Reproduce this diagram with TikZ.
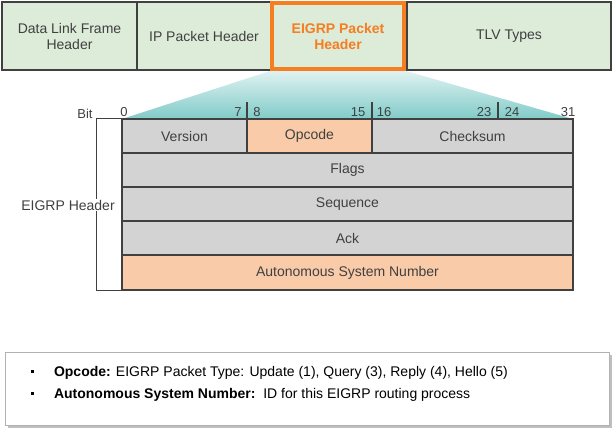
\documentclass[tikz,border=0pt]{standalone}
\usepackage{fontspec}
\setmainfont{Liberation Sans}
\definecolor{framegreen}{HTML}{DDEBD9}
\definecolor{fieldgray}{HTML}{D4D3D3}
\definecolor{fieldpeach}{HTML}{F9CBA8}
\definecolor{hiorange}{HTML}{F47E20}
\definecolor{fanteal}{HTML}{80CBC8}
\definecolor{textgray}{HTML}{404040}
\tikzset{
  hdr/.style={draw=textgray, line width=1.5pt, fill=framegreen, text=textgray, align=center, font=\fontsize{14}{16}\selectfont},
  fld/.style={draw=textgray, line width=1.2pt, fill=fieldgray, text=textgray, font=\fontsize{14}{16}\selectfont},
  bitlbl/.style={text=textgray, font=\fontsize{13}{15}\selectfont, anchor=base},
}
\newcommand{\sqbullet}{\rule[0.25em]{3.5pt}{3.5pt}}
\begin{document}
\begin{tikzpicture}[x=1pt, y=-1pt]
    \useasboundingbox (0,0) rectangle (614,434);
    % Frame
    \node [hdr, minimum width=135pt, minimum height=68pt] (dlh) at (69.5,36) {Data Link Frame\\Header};
    \node [hdr, minimum width=134pt, minimum height=68pt] (iph) at (204,36) {IP Packet Header};
    \node [hdr, minimum width=204pt, minimum height=68pt] (tlv) at (509,36) {TLV Types};
    \node [hdr, draw=hiorange, line width=4pt, text=hiorange, font=\bfseries\fontsize{14}{16}\selectfont, minimum width=132pt, minimum height=66pt] (eigrp) at (338,36) {EIGRP Packet\\Header};
    % Fan
    \shade [top color=fanteal!25, bottom color=fanteal] (eigrp.south west) -- (eigrp.south east) -- (573,119) -- (122,119) -- cycle;
    % Fields
    \node [fld, minimum width=125pt, minimum height=34pt] (version) at (184.5,136) {Version};
    \node [fld, fill=fieldpeach, minimum width=125pt, minimum height=34pt] (opcode) at (309.5,136) {Opcode};
    \node [fld, minimum width=201pt, minimum height=34pt] (checksum) at (472.5,136) {Checksum};
    \node [fld, minimum width=451pt, minimum height=34pt] (flags) at (347.5,170) {Flags};
    \node [fld, minimum width=451pt, minimum height=34pt] (sequence) at (347.5,204) {Sequence};
    \node [fld, minimum width=451pt, minimum height=34pt] (ack) at (347.5,238) {Ack};
    \node [fld, fill=fieldpeach, minimum width=451pt, minimum height=35pt] (asn) at (347.5,272.5) {Autonomous System Number};
    % Bit positions
    \foreach \x in {247,372,498}
        \draw [textgray, line width=1.2pt] (\x,102) -- (\x,119);
    \foreach \x/\b in {124/0,238/7,257/8,358/15,384/16,484/23,512/24,568/31}
        \node [bitlbl] at (\x,116) {\b};
    \node [bitlbl] (bit) at (85,118) {Bit};
    % Bracket
    \draw [textgray, line width=1.2pt] (version.north west) -- ++(-25,0) coordinate (bt) -- (bt |- asn.south west) -- (asn.south west);
    \node [fill=white, text=textgray, font=\fontsize{14}{16}\selectfont, inner sep=1pt] (hlabel) at (68,205) {EIGRP Header};
    % Notes
    \fill [black!25] (8,355) rectangle (612,428);
    \node [draw=black!30, fill=white, minimum width=604pt, minimum height=73pt] (notes) at (307,388.5) {};
    \node [anchor=west, font=\fontsize{14}{16}\selectfont] (n1) at (27,373) {\sqbullet\hspace{20pt}\textbf{Opcode:} EIGRP Packet Type: Update (1), Query (3), Reply (4), Hello (5)};
    \node [anchor=west, font=\fontsize{14}{16}\selectfont] (n2) at (27,395) {\sqbullet\hspace{20pt}\textbf{Autonomous System Number:}\ \ ID for this EIGRP routing process};
\end{tikzpicture}
\end{document}
